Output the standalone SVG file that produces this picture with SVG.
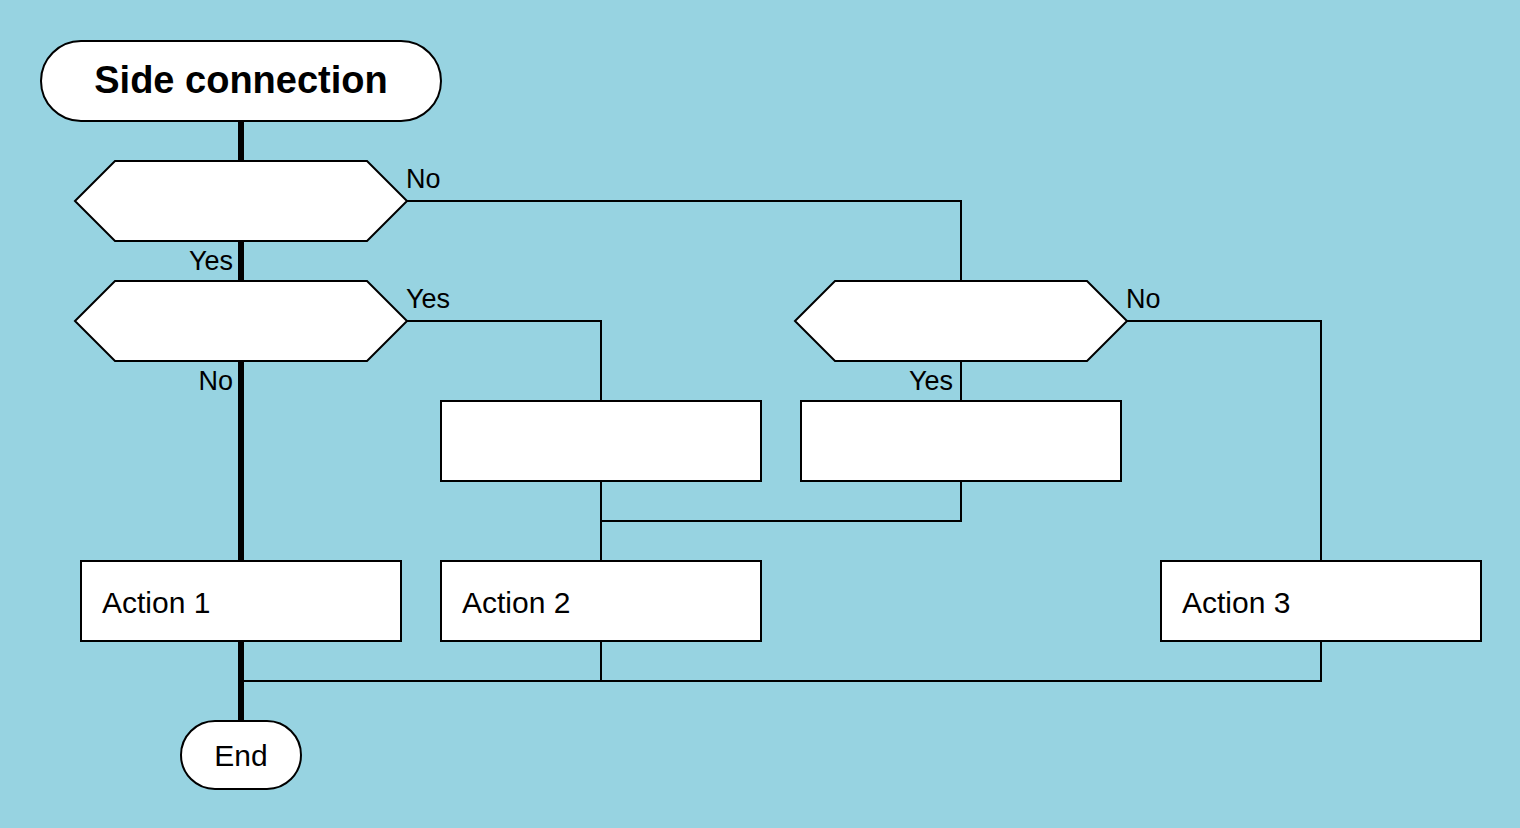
<svg xmlns="http://www.w3.org/2000/svg" width="1520" height="828" viewBox="0 0 1520 828">
<style>
.shape{fill:#fff;stroke:#000;stroke-width:2}
.thin{fill:none;stroke:#000;stroke-width:2}
.thick{fill:none;stroke:#000;stroke-width:6}
.lbl{font-family:"Liberation Sans",Arial,sans-serif;font-size:27px;fill:#000}
.txt{font-family:"Liberation Sans",Arial,sans-serif;font-size:30px;fill:#000}
.title{font-family:"Liberation Sans",Arial,sans-serif;font-size:38px;font-weight:bold;fill:#000}
</style>
<rect x="0" y="0" width="1520" height="828" fill="#97d3e1"/>
<g id="connectors">
<path class="thick" d="M241,121V161M241,241V281M241,361V561M241,641V721"/>
<path class="thin" d="M407,201H961V281"/>
<path class="thin" d="M407,321H601V401"/>
<path class="thin" d="M961,361V401"/>
<path class="thin" d="M1127,321H1321V561"/>
<path class="thin" d="M601,481V561"/>
<path class="thin" d="M961,481V521H601"/>
<path class="thin" d="M601,641V681"/>
<path class="thin" d="M1321,641V681H241"/>
<text class="lbl" x="406" y="188">No</text>
<text class="lbl" x="233" y="270" text-anchor="end">Yes</text>
<text class="lbl" x="406" y="308">Yes</text>
<text class="lbl" x="233" y="390" text-anchor="end">No</text>
<text class="lbl" x="1126" y="308">No</text>
<text class="lbl" x="953" y="390" text-anchor="end">Yes</text>
</g>
<g id="start">
<rect class="shape" x="41" y="41" width="400" height="80" rx="40" ry="40"/>
<text class="title" x="241" y="93" text-anchor="middle">Side connection</text>
</g>
<g id="decision1"><polygon class="shape" points="75,201 115,161 367,161 407,201 367,241 115,241"/></g>
<g id="decision2"><polygon class="shape" points="75,321 115,281 367,281 407,321 367,361 115,361"/></g>
<g id="decision3"><polygon class="shape" points="795,321 835,281 1087,281 1127,321 1087,361 835,361"/></g>
<g id="box1"><rect class="shape" x="441" y="401" width="320" height="80"/></g>
<g id="box2"><rect class="shape" x="801" y="401" width="320" height="80"/></g>
<g id="action1"><rect class="shape" x="81" y="561" width="320" height="80"/><text class="txt" x="102" y="613">Action 1</text></g>
<g id="action2"><rect class="shape" x="441" y="561" width="320" height="80"/><text class="txt" x="462" y="613">Action 2</text></g>
<g id="action3"><rect class="shape" x="1161" y="561" width="320" height="80"/><text class="txt" x="1182" y="613">Action 3</text></g>
<g id="end"><rect class="shape" x="181" y="721" width="120" height="68" rx="34" ry="34"/><text class="txt" x="241" y="766" text-anchor="middle">End</text></g>
</svg>
